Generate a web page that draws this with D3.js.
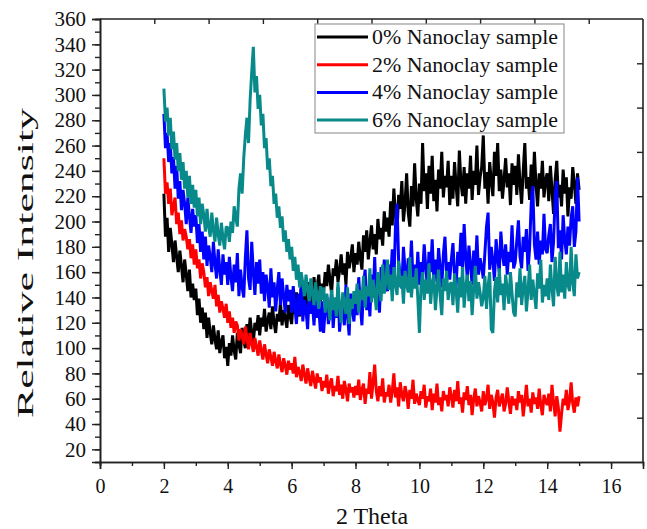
<!DOCTYPE html>
<html>
<head>
<meta charset="utf-8">
<script src="https://cdn.jsdelivr.net/npm/d3@7"></script>
<style>
  body { margin: 0; background: #fff; }
  svg { display: block; }
  text { font-family: "Liberation Serif", "Times New Roman", serif; fill: #111; }
</style>
</head>
<body>
<svg id="chart" width="647" height="529"></svg>
<script>
var xStart = 2, xStep = 0.05;

var seriesNames = ["0% Nanoclay sample", "2% Nanoclay sample", "4% Nanoclay sample", "6% Nanoclay sample"],
	seriesColors = ["#000000", "#ff0000", "#0000ff", "#088a8a"];

// values read every 0.05 from 2.00 to 15.00 (one row = one unit of 2 Theta)
var black = [
	222, 188, 203, 176, 195, 182, 168, 185, 172, 160,  177, 165, 152, 170, 158, 145, 162, 140, 151, 138,
	147, 126, 139, 120, 132, 115, 128, 108, 124, 112,  103, 118, 107, 99, 114, 96, 105, 110, 92, 101,
	86, 104, 94, 110, 98, 91, 112, 103, 96, 116,  106, 100, 119, 108, 124, 112, 104, 120, 114, 126,
	110, 124, 117, 131, 113, 122, 128, 115, 133, 120,  112, 127, 121, 136, 118, 130, 124, 116, 134, 125,
	119, 138, 127, 144, 131, 125, 147, 136, 142, 130,  152, 139, 146, 133, 156, 141, 149, 158, 137, 151,
	144, 160, 149, 166, 154, 143, 163, 157, 170, 152,  161, 174, 158, 167, 150, 176, 163, 171, 182, 160,
	175, 166, 184, 171, 162, 189, 176, 193, 170, 184,  197, 178, 190, 174, 202, 186, 195, 181, 208, 192,
	203, 188, 216, 197, 226, 205, 193, 221, 210, 232,  200, 214, 238, 207, 196, 228, 212, 246, 218, 204,
	230, 214, 262, 224, 238, 210, 244, 222, 252, 216,  233, 208, 241, 226, 255, 219, 236, 227, 248, 213,
	236, 218, 247, 228, 212, 256, 231, 220, 243, 214,  238, 226, 252, 217, 240, 229, 260, 221, 235, 243,
	268, 226, 239, 214, 247, 232, 220, 255, 236, 262,  224, 241, 218, 233, 250, 227, 238, 213, 246, 229,
	244, 221, 253, 230, 214, 240, 262, 226, 235, 217,  245, 224, 255, 229, 212, 238, 226, 248, 219, 233,
	238, 216, 244, 225, 206, 233, 248, 219, 229, 212,  241, 222, 235, 204, 227, 218, 243, 230, 214, 238,
	225];

var red = [
	250, 222, 231, 214, 226, 205, 212, 219, 198, 207,  190, 201, 185, 194, 188, 178, 186, 171, 182, 166,
	178, 163, 170, 155, 167, 160, 148, 156, 141, 152,  145, 139, 150, 133, 142, 128, 137, 131, 124, 135,
	120, 129, 116, 124, 112, 121, 118, 106, 115, 110,  103, 117, 108, 99, 112, 104, 97, 108, 101, 94,
	106, 98, 91, 103, 95, 88, 99, 93, 86, 97,  90, 84, 95, 87, 81, 92, 86, 79, 90, 83,
	88, 80, 93, 77, 85, 81, 74, 87, 79, 72,  84, 76, 70, 82, 75, 68, 80, 73, 77, 66,
	74, 69, 79, 64, 72, 76, 62, 70, 66, 78,  63, 71, 60, 74, 67, 58, 72, 65, 69, 61,
	70, 63, 75, 59, 67, 72, 56, 68, 64, 81,  60, 73, 87, 66, 58, 70, 62, 76, 57, 65,
	62, 71, 57, 66, 80, 61, 69, 54, 73, 63,  58, 70, 64, 52, 67, 60, 75, 56, 64, 59,
	55, 66, 60, 71, 53, 62, 58, 68, 51, 64,  57, 72, 55, 61, 50, 66, 59, 63, 54, 69,
	62, 53, 67, 58, 74, 56, 61, 49, 65, 59,  70, 55, 63, 47, 60, 68, 54, 62, 57, 50,
	66, 55, 60, 71, 52, 63, 57, 45, 61, 67,  54, 59, 64, 50, 56, 69, 58, 48, 62, 55,
	60, 51, 66, 57, 63, 46, 58, 71, 54, 60,  49, 65, 56, 61, 52, 68, 55, 47, 63, 58,
	55, 64, 50, 71, 57, 46, 62, 53, 34, 48,  60, 55, 67, 51, 58, 73, 56, 49, 61, 54,
	62];

var blue = [
	285, 258, 270, 247, 262, 238, 251, 226, 244, 218,  232, 209, 225, 214, 198, 219, 204, 191, 210, 196,
	205, 183, 198, 176, 192, 170, 188, 165, 181, 172,  160, 184, 167, 155, 178, 162, 150, 174, 158, 168,
	150, 172, 156, 145, 166, 152, 175, 141, 162, 148,  140, 171, 193, 155, 146, 184, 160, 142, 168, 151,
	170, 143, 160, 137, 158, 148, 132, 163, 140, 152,  129, 147, 160, 134, 155, 141, 128, 150, 137, 146,
	128, 149, 133, 119, 143, 126, 152, 121, 138, 130,  115, 144, 127, 136, 118, 141, 124, 132, 113, 137,
	112, 131, 140, 119, 128, 145, 116, 134, 124, 148,  113, 129, 137, 118, 150, 125, 110, 143, 131, 121,
	142, 126, 156, 134, 118, 149, 162, 130, 145, 125,  158, 140, 172, 136, 151, 128, 164, 147, 170, 152,
	145, 166, 155, 178, 150, 196, 214, 168, 158, 147,  180, 162, 150, 171, 158, 185, 153, 166, 149, 176,
	150, 168, 158, 182, 163, 149, 176, 160, 186, 155,  170, 152, 179, 163, 148, 174, 188, 159, 168, 154,
	170, 183, 157, 149, 176, 165, 191, 160, 198, 172,  155, 181, 166, 150, 177, 162, 189, 158, 171, 164,
	155, 175, 196, 207, 162, 180, 169, 153, 186, 171,  160, 192, 174, 165, 182, 158, 176, 168, 197, 163,
	168, 185, 201, 172, 163, 188, 176, 194, 161, 179,  214, 228, 182, 170, 192, 166, 185, 174, 206, 178,
	175, 189, 198, 168, 184, 220, 232, 179, 193, 170,  205, 186, 174, 196, 181, 203, 212, 180, 192, 235,
	200];

var teal = [
	305, 279, 290, 268, 282, 257, 271, 249, 262, 240,  254, 233, 247, 226, 240, 219, 236, 214, 229, 211,
	225, 204, 219, 198, 214, 205, 192, 210, 196, 188,  207, 193, 184, 203, 190, 181, 199, 187, 178, 196,
	195, 184, 200, 191, 212, 203, 196, 226, 238, 222,  250, 268, 282, 262, 296, 318, 338, 302, 315, 289,
	300, 276, 285, 258, 266, 241, 250, 228, 236, 214,  222, 203, 212, 195, 204, 184, 193, 176, 186, 170,
	180, 161, 172, 154, 166, 148, 160, 151, 141, 158,  146, 137, 155, 143, 134, 152, 140, 131, 149, 138,
	148, 128, 143, 134, 122, 146, 130, 140, 125, 152,  133, 120, 144, 136, 127, 148, 119, 139, 131, 145,
	135, 151, 128, 146, 138, 157, 132, 149, 141, 163,  136, 154, 144, 130, 160, 147, 137, 166, 143, 152,
	170, 146, 158, 137, 164, 151, 142, 169, 148, 157,  135, 161, 150, 144, 172, 140, 156, 147, 163, 139,
	112, 149, 160, 138, 154, 143, 167, 135, 151, 158,  130, 147, 162, 141, 126, 155, 145, 161, 138, 150,
	152, 134, 159, 145, 128, 156, 140, 164, 132, 149,  158, 137, 153, 126, 147, 165, 139, 152, 144, 133,
	140, 157, 131, 149, 160, 115, 112, 145, 156, 136,  163, 142, 151, 130, 158, 146, 135, 160, 143, 128,
	125, 152, 140, 163, 134, 148, 157, 129, 145, 166,  138, 154, 142, 131, 159, 147, 170, 136, 150, 141,
	155, 138, 166, 147, 133, 172, 150, 141, 176, 144,  158, 139, 168, 150, 145, 180, 152, 141, 174, 155,
	160];

var xTicks = [0, 2, 4, 6, 8, 10, 12, 14, 16],
	yTicks = [20, 40, 60, 80, 100, 120, 140, 160, 180, 200, 220, 240, 260, 280, 300, 320, 340, 360];

var plotL = 100, plotR = 643, plotT = 19, plotB = 462;

var svg = d3.select("#chart");

var x = d3.scaleLinear().domain([0, 17]).range([plotL, plotR]),
	y = d3.scaleLinear().domain([10, 360]).range([plotB, plotT]),
	// frame ticks on top and right follow their own spacing
	xTop = d3.scaleLinear().domain([0, 10]).range([plotL, plotR]),
	yRight = d3.scaleLinear().domain([0, 10]).range([plotB, plotT]);

// data lines
var line = d3.line()
	.x(function(d, i){ return x(xStart + i*xStep); })
	.y(function(d){ return y(d); });

[black, red, blue, teal].forEach(function(s, k){
	svg.append("path")
		.datum(s)
		.attr("d", line)
		.attr("fill", "none")
		.attr("stroke", seriesColors[k])
		.attr("stroke-width", 3)
		.attr("stroke-linejoin", "miter")
		.attr("stroke-miterlimit", 2);
});

// bottom axis
var gx = svg.append("g").attr("transform", "translate(0," + plotB + ")");
gx.call(d3.axisBottom(x).tickValues(d3.range(0, 17, 1)).tickSize(4).tickFormat(""));
var gx2 = svg.append("g").attr("transform", "translate(0," + plotB + ")");
gx2.call(d3.axisBottom(x).tickValues(xTicks).tickSize(7).tickPadding(10).tickFormat(d3.format("d")));
gx2.selectAll("text").style("font-size", "20px").style("font-family", "Liberation Serif");

// left axis
var gy = svg.append("g").attr("transform", "translate(" + plotL + ",0)");
gy.call(d3.axisLeft(y).tickValues(d3.range(10, 361, 10)).tickSize(5).tickFormat(""));
var gy2 = svg.append("g").attr("transform", "translate(" + plotL + ",0)");
gy2.call(d3.axisLeft(y).tickValues(yTicks).tickSize(8).tickPadding(6).tickFormat(d3.format("d")));
gy2.selectAll("text").style("font-size", "21px").style("font-family", "Liberation Serif");

// top and right frame with inward ticks
var gt = svg.append("g").attr("transform", "translate(0," + plotT + ")");
gt.call(d3.axisBottom(xTop).tickValues(d3.range(1, 10)).tickSize(5).tickFormat(""));
var gr = svg.append("g").attr("transform", "translate(" + plotR + ",0)");
gr.call(d3.axisLeft(yRight).tickValues(d3.range(1, 10)).tickSize(6).tickFormat(""));

svg.selectAll(".domain").attr("stroke", "#222").attr("stroke-width", 1.6);
svg.selectAll(".tick line").attr("stroke", "#222").attr("stroke-width", 1.4);
gt.select(".domain").remove();
gr.select(".domain").remove();
svg.append("line").attr("x1", plotL).attr("x2", plotR).attr("y1", plotT).attr("y2", plotT)
	.attr("stroke", "#222").attr("stroke-width", 1.6);
svg.append("line").attr("x1", plotR).attr("x2", plotR).attr("y1", plotT).attr("y2", plotB)
	.attr("stroke", "#222").attr("stroke-width", 1.6);

// axis titles
svg.append("text")
	.attr("x", 372).attr("y", 524)
	.attr("text-anchor", "middle")
	.style("font-size", "24px")
	.text("2 Theta");

svg.append("text")
	.attr("transform", "translate(33,263) rotate(-90)")
	.attr("text-anchor", "middle")
	.attr("textLength", 310)
	.attr("lengthAdjust", "spacingAndGlyphs")
	.style("font-size", "24px")
	.text("Relative Intensity");

// legend
var legend = svg.append("g");
legend.append("rect")
	.attr("x", 315).attr("y", 24).attr("width", 249).attr("height", 109)
	.attr("fill", "#fff").attr("stroke", "#999").attr("stroke-width", 1.2);

seriesNames.forEach(function(name, k){
	var ly = 37 + k*27.7;
	legend.append("line")
		.attr("x1", 317).attr("x2", 368).attr("y1", ly).attr("y2", ly)
		.attr("stroke", seriesColors[k]).attr("stroke-width", 3);
	legend.append("text")
		.attr("x", 372).attr("y", ly + 7)
		.attr("textLength", 186)
		.attr("lengthAdjust", "spacingAndGlyphs")
		.style("font-size", "21px")
		.text(name);
});
</script>
</body>
</html>
